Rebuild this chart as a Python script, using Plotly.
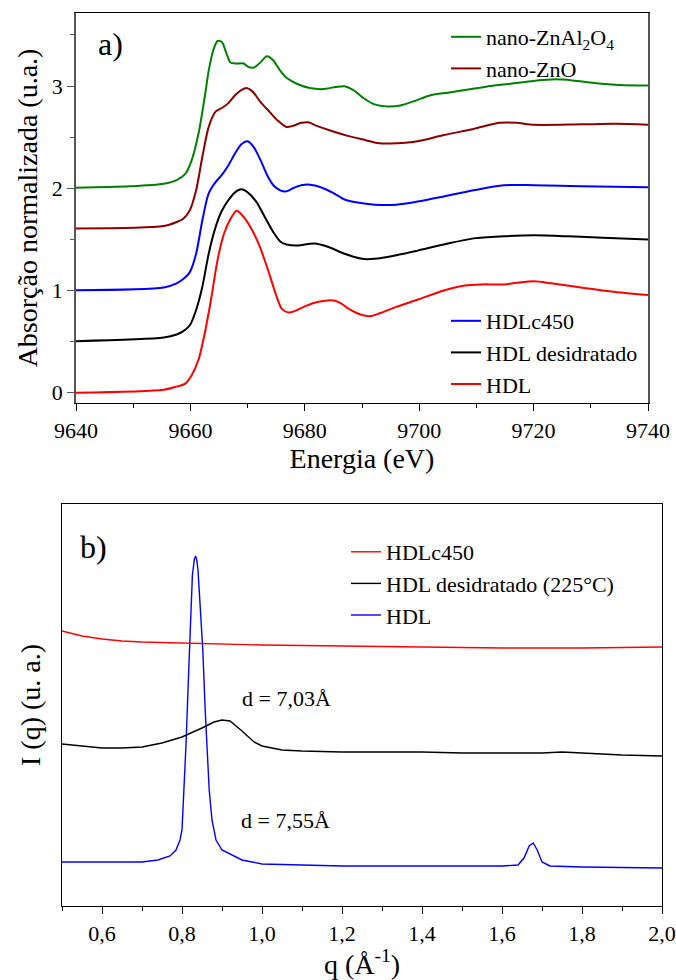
import plotly.graph_objects as go

# ---------------- Panel a: XANES ----------------
E_hdl = [9640, 9655.35, 9657.6, 9659.1, 9660.2, 9661.4, 9662.5, 9663.6, 9664.75, 9665.9, 9667.0, 9668.1,
         9669.3, 9670.8, 9671.9, 9673.4, 9674.9, 9676.0, 9677.2, 9678.7, 9680.2, 9682.4, 9684.7, 9686.2,
         9687.7, 9690.0, 9691.5, 9693.0, 9696.0, 9699.7, 9704.3, 9708.0, 9711.0, 9714.8, 9717.0, 9720.1,
         9723.1, 9728.3, 9733.6, 9740]
A_hdl = [0.0, 0.03, 0.06, 0.09, 0.17, 0.32, 0.58, 0.91, 1.30, 1.56, 1.70, 1.78,
         1.72, 1.59, 1.46, 1.23, 0.97, 0.82, 0.785, 0.81, 0.85, 0.89, 0.905, 0.88,
         0.82, 0.76, 0.75, 0.775, 0.84, 0.91, 1.00, 1.05, 1.06, 1.06, 1.075, 1.09,
         1.07, 1.03, 0.99, 0.955]

E_des = [9640, 9655.35, 9657.6, 9658.7, 9659.9, 9661.0, 9662.1, 9663.2, 9664.4, 9665.5, 9666.6, 9667.8,
         9668.9, 9670.0, 9671.5, 9673.0, 9674.5, 9675.7, 9676.8, 9678.7, 9681.7, 9683.9, 9686.95, 9690.0,
         9692.2, 9696.0, 9699.7, 9704.3, 9709.5, 9714.8, 9720.1, 9726.1, 9732.1, 9740]
A_des = [0.505, 0.54, 0.57, 0.60, 0.66, 0.81, 1.04, 1.36, 1.62, 1.78, 1.88, 1.96,
         1.99, 1.96, 1.87, 1.72, 1.57, 1.48, 1.45, 1.44, 1.46, 1.43, 1.36, 1.31,
         1.31, 1.345, 1.39, 1.45, 1.51, 1.53, 1.54, 1.53, 1.515, 1.50]

E_c450 = [9640, 9655.35, 9657.6, 9658.7, 9659.9, 9661.0, 9662.1, 9663.2, 9664.4, 9665.5, 9666.6, 9667.8,
          9668.9, 9670.0, 9671.1, 9672.3, 9673.4, 9674.5, 9675.7, 9676.8, 9677.9, 9679.4, 9680.9, 9682.8,
          9685.1, 9686.95, 9689.2, 9692.2, 9696.0, 9699.7, 9704.3, 9709.5, 9714.8, 9720.1, 9728.3, 9740]
A_c450 = [1.003, 1.03, 1.07, 1.11, 1.18, 1.36, 1.69, 1.95, 2.06, 2.13, 2.22, 2.34,
          2.43, 2.46, 2.40, 2.27, 2.13, 2.03, 1.98, 1.97, 2.00, 2.03, 2.035, 2.01,
          1.95, 1.89, 1.86, 1.84, 1.84, 1.87, 1.92, 1.98, 2.03, 2.03, 2.02, 2.01]

E_zno = [9640, 9655.35, 9657.6, 9658.7, 9659.9, 9661.0, 9662.1, 9663.2, 9664.4, 9665.5, 9666.6, 9667.8,
         9668.9, 9669.8, 9670.8, 9672.3, 9673.8, 9675.3, 9676.8, 9677.9, 9679.4, 9680.6, 9682.1, 9684.7,
         9687.7, 9690.7, 9693.0, 9696.0, 9699.7, 9704.3, 9709.5, 9714.0, 9717.0, 9720.1, 9728.3, 9734.4, 9740]
A_zno = [1.606, 1.63, 1.67, 1.70, 1.785, 1.98, 2.31, 2.60, 2.75, 2.785, 2.83, 2.91,
         2.96, 2.98, 2.95, 2.84, 2.75, 2.66, 2.60, 2.61, 2.64, 2.645, 2.61, 2.56,
         2.51, 2.47, 2.44, 2.44, 2.46, 2.52, 2.58, 2.64, 2.64, 2.62, 2.625, 2.63, 2.62]

E_znal = [9640, 9649.3, 9655.35, 9657.6, 9659.1, 9660.2, 9661.4, 9662.5, 9663.2, 9664.0, 9664.75, 9665.5,
          9666.3, 9667.0, 9668.1, 9669.3, 9670.0, 9671.1, 9672.3, 9673.4, 9674.5, 9675.7, 9676.8, 9678.7,
          9680.9, 9683.2, 9685.4, 9686.95, 9688.5, 9690.3, 9692.2, 9694.5, 9696.7, 9699.0, 9702.0, 9705.0,
          9708.0, 9712.5, 9715.5, 9720.1, 9723.8, 9726.8, 9730.6, 9735.1, 9740]
A_znal = [2.006, 2.02, 2.045, 2.08, 2.14, 2.27, 2.53, 2.89, 3.15, 3.35, 3.44, 3.43,
          3.32, 3.23, 3.22, 3.22, 3.19, 3.18, 3.235, 3.29, 3.25, 3.15, 3.08, 3.02,
          2.98, 2.97, 2.99, 2.997, 2.96, 2.88, 2.82, 2.80, 2.81, 2.85, 2.91, 2.935,
          2.96, 3.00, 3.02, 3.05, 3.065, 3.055, 3.03, 3.01, 3.005]

# ---------------- Panel b: SAXS ----------------
q_c450 = [0.5, 0.55, 0.6, 0.65, 0.7, 0.8, 0.9, 1.0, 1.2, 1.4, 1.6, 1.8, 2.0]
I_c450 = [2.75, 2.70, 2.67, 2.65, 2.64, 2.63, 2.62, 2.61, 2.60, 2.59, 2.58, 2.58, 2.59]

q_des = [0.5, 0.55, 0.6, 0.65, 0.7, 0.75, 0.8, 0.85, 0.88, 0.9, 0.92, 0.95, 0.98, 1.0, 1.05, 1.1,
         1.2, 1.3, 1.4, 1.5, 1.6, 1.7, 1.75, 1.8, 1.9, 2.0]
I_des = [1.62, 1.60, 1.58, 1.58, 1.59, 1.63, 1.69, 1.78, 1.84, 1.86, 1.85, 1.75, 1.64, 1.60, 1.56, 1.55,
         1.54, 1.54, 1.54, 1.53, 1.53, 1.53, 1.54, 1.53, 1.51, 1.50]

q_hdl = [0.5, 0.6, 0.7, 0.74, 0.77, 0.785, 0.795, 0.8, 0.805, 0.81, 0.815, 0.82, 0.826, 0.831, 0.834,
         0.837, 0.84, 0.846, 0.852, 0.858, 0.863, 0.868, 0.875, 0.885, 0.9, 0.95, 1.0, 1.1, 1.2, 1.4,
         1.6, 1.64, 1.655, 1.668, 1.678, 1.688, 1.7, 1.72, 1.8, 2.0]
I_hdl = [0.44, 0.44, 0.44, 0.46, 0.50, 0.56, 0.66, 0.76, 1.16, 1.61, 2.16, 2.76, 3.31, 3.47, 3.50,
         3.46, 3.36, 2.96, 2.56, 1.96, 1.56, 1.16, 0.86, 0.66, 0.56, 0.46, 0.42, 0.41, 0.40, 0.40,
         0.40, 0.41, 0.48, 0.60, 0.63, 0.56, 0.44, 0.40, 0.39, 0.38]

FONT = "Times New Roman, Liberation Serif, DejaVu Serif, serif"

fig = go.Figure()

def add_a(x, y, name, color, legend):
    fig.add_trace(go.Scatter(x=x, y=y, name=name, mode="lines",
                             line=dict(color=color, width=2, shape="spline", smoothing=0.8),
                             xaxis="x", yaxis="y", legend=legend))

add_a(E_hdl, A_hdl, "HDL", "#ff0000", "legend2")
add_a(E_des, A_des, "HDL desidratado", "#000000", "legend2")
add_a(E_c450, A_c450, "HDLc450", "#0000ff", "legend2")
add_a(E_zno, A_zno, "nano-ZnO", "#8b0000", "legend")
add_a(E_znal, A_znal, "nano-ZnAl<sub>2</sub>O<sub>4</sub>", "#008000", "legend")

def add_b(x, y, name, color):
    fig.add_trace(go.Scatter(x=x, y=y, name=name, mode="lines",
                             line=dict(color=color, width=1.4),
                             xaxis="x2", yaxis="y2", legend="legend3"))

add_b(q_hdl, I_hdl, "HDL", "#0000ff")
add_b(q_des, I_des, "HDL desidratado (225°C)", "#000000")
add_b(q_c450, I_c450, "HDLc450", "#ff0000")

W, H = 676, 980
tickfont = dict(family=FONT, size=22, color="black")
titlefont = dict(family=FONT, size=28, color="black")
legfont = dict(family=FONT, size=22, color="black")

fig.update_layout(
    width=W, height=H,
    margin=dict(l=0, r=0, t=0, b=0, autoexpand=False),
    paper_bgcolor="white", plot_bgcolor="white",
    font=dict(family=FONT, color="black"),
    xaxis=dict(domain=[76 / W, 648 / W], range=[9640, 9740], anchor="y", automargin=False,
               tickvals=[9640, 9660, 9680, 9700, 9720, 9740],
               ticks="outside", ticklen=7, tickwidth=1.2, tickcolor="black",
               minor=dict(dtick=10, ticks="outside", ticklen=4, tickcolor="black"),
               showline=True, linecolor="black", linewidth=1.3, mirror=True,
               showgrid=False, zeroline=False, tickfont=tickfont,
               title=dict(text="Energia (eV)", font=titlefont, standoff=4)),
    yaxis=dict(domain=[1 - 403 / H, 1 - 13 / H], range=[-0.1, 3.714], anchor="x", automargin=False,
               tickvals=[0, 1, 2, 3],
               ticks="outside", ticklen=7, tickwidth=1.2, tickcolor="#555555",
               minor=dict(dtick=0.5, ticks="outside", ticklen=4, tickcolor="#555555"),
               showline=True, linecolor="#555555", linewidth=1.5, mirror=True,
               showgrid=False, zeroline=False, tickfont=tickfont,
               title=dict(text="Absorção normalizada (u.a.)", font=titlefont, standoff=6)),
    xaxis2=dict(domain=[62 / W, 662 / W], range=[0.5, 2.0], anchor="y2", automargin=False,
                tickvals=[0.6, 0.8, 1.0, 1.2, 1.4, 1.6, 1.8, 2.0],
                ticktext=["0,6", "0,8", "1,0", "1,2", "1,4", "1,6", "1,8", "2,0"],
                ticks="outside", ticklen=7, tickwidth=1.2, tickcolor="black",
                minor=dict(dtick=0.1, tick0=0.5, ticks="outside", ticklen=4, tickcolor="black"),
                showline=True, linecolor="black", linewidth=1.3, mirror=True,
                showgrid=False, zeroline=False, tickfont=tickfont,
                title=dict(text="q (Å<sup>-1</sup>)", font=titlefont, standoff=6)),
    yaxis2=dict(domain=[1 - 906 / H, 1 - 504 / H], range=[0, 4.02], anchor="x2", automargin=False,
                showticklabels=False, ticks="",
                showline=True, linecolor="black", linewidth=1.3, mirror=True,
                showgrid=False, zeroline=False,
                title=dict(text="I (q) (u. a.)", font=titlefont, standoff=12)),
    legend=dict(x=446 / W, y=1 - 16 / H, xanchor="left", yanchor="top",
                bgcolor="rgba(0,0,0,0)", font=legfont, traceorder="reversed",
                itemwidth=30, tracegroupgap=0),
    legend2=dict(x=446 / W, y=1 - 300 / H, xanchor="left", yanchor="top",
                 bgcolor="rgba(0,0,0,0)", font=legfont, traceorder="reversed",
                 itemwidth=30, tracegroupgap=0),
    legend3=dict(x=346 / W, y=1 - 531 / H, xanchor="left", yanchor="top",
                 bgcolor="rgba(0,0,0,0)", font=legfont, traceorder="reversed",
                 itemwidth=30, tracegroupgap=0),
    annotations=[
        dict(text="a)", x=96 / W, y=1 - 44 / H, xref="paper", yref="paper",
             xanchor="left", yanchor="middle", showarrow=False,
             font=dict(family=FONT, size=32, color="black")),
        dict(text="b)", x=78 / W, y=1 - 547 / H, xref="paper", yref="paper",
             xanchor="left", yanchor="middle", showarrow=False,
             font=dict(family=FONT, size=32, color="black")),
        dict(text="d = 7,03Å", x=240 / W, y=1 - 698 / H, xref="paper", yref="paper",
             xanchor="left", yanchor="middle", showarrow=False,
             font=dict(family=FONT, size=22, color="black")),
        dict(text="d = 7,55Å", x=239 / W, y=1 - 820 / H, xref="paper", yref="paper",
             xanchor="left", yanchor="middle", showarrow=False,
             font=dict(family=FONT, size=22, color="black")),
    ],
)

fig.write_html("out.html")
